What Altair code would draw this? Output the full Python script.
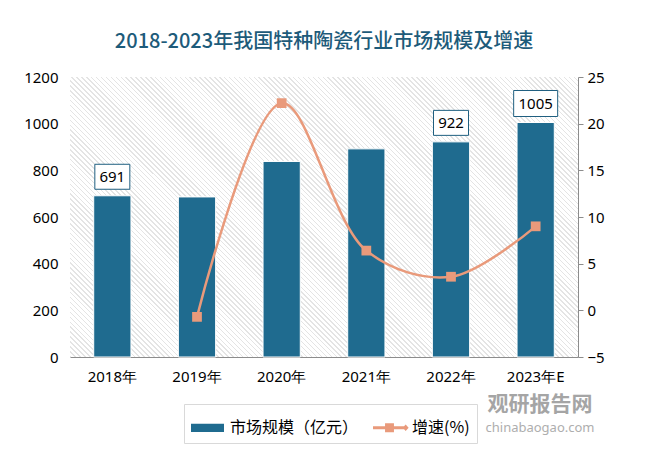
import altair as alt
import pandas as pd

# ---- data ----
years = ["2018年", "2019年", "2020年", "2021年", "2022年", "2023年E"]
market_size = [691, 686, 838, 892, 922, 1005]          # 亿元
growth_rate = [None, -0.7, 22.2, 6.4, 3.6, 9.0]        # %
bar_labels = ["691", None, None, None, "922", "1005"]
series_names = ["市场规模（亿元）", "增速(%)"]
title_text = "2018-2023年我国特种陶瓷行业市场规模及增速"

BAR = "#1f6b8f"
LINE = "#e99a7b"
BOX = "#1f5f80"
W, H = 508, 280

df = pd.DataFrame({"year": years, "size": market_size, "growth": growth_rate, "label": bar_labels})
df["wide"] = df["label"].fillna("").str.len() > 3
legend_df = pd.DataFrame({"year": [years[0]] * 2, "growth": [None, None], "series": series_names})

x_axis = alt.Axis(labelAngle=0, ticks=False, domainColor="#8c8c8c", labelFont="Noto Sans",
                  labelFontSize=15, labelColor="#000000", labelPadding=12, grid=False, title=None)
x_enc = alt.X("year:N", sort=years, title=None, axis=x_axis,
              scale=alt.Scale(paddingInner=0.56, paddingOuter=0.28))

left_axis = alt.Axis(values=[0, 200, 400, 600, 800, 1000, 1200], format="d", domain=False, ticks=False,
                     grid=False, labelPadding=12, labelFont="Noto Sans", labelFontSize=15,
                     labelColor="#000000", title=None)
right_axis = alt.Axis(orient="right", values=[-5, 0, 5, 10, 15, 20, 25], format="d", domain=True,
                      domainColor="#8c8c8c", ticks=True, tickColor="#8c8c8c", tickSize=5, labelPadding=4,
                      grid=False, labelFont="Noto Sans", labelFontSize=15, labelColor="#000000", title=None)

y_left = alt.Y("size:Q", title=None, axis=left_axis, scale=alt.Scale(domain=[0, 1200], nice=False))
y_right = alt.Y("growth:Q", title=None, axis=right_axis, scale=alt.Scale(domain=[-5, 25], nice=False))

# hatched plot background (light diagonal stripes)
N = 160
stops = []
for i in range(N):
    a = i / N
    b = (i + 0.3) / N
    c = (i + 1) / N
    stops += [{"offset": a, "color": "#e4e4e4"}, {"offset": b, "color": "#e4e4e4"},
              {"offset": b, "color": "#ffffff"}, {"offset": c, "color": "#ffffff"}]
hatch = alt.LinearGradient(gradient="linear", stops=stops, x1=0, y1=1, x2=1.19, y2=0.344)

background = alt.Chart(pd.DataFrame({"k": [0]})).mark_rect(color=hatch).encode(
    x=alt.value(0), x2=alt.value(W), y=alt.value(0), y2=alt.value(H))

bars = alt.Chart(df).mark_bar(color=BAR, stroke="white", strokeWidth=1).encode(x=x_enc, y=y_left)

box_narrow = "M-1,-0.714 L1,-0.714 L1,0.714 L-1,0.714 Z"
box_wide = "M-1,-0.591 L1,-0.591 L1,0.591 L-1,0.591 Z"

lab_base = alt.Chart(df).transform_filter("datum.label != null")
boxes_n = lab_base.transform_filter("!datum.wide").mark_point(
    shape=box_narrow, size=1225, filled=True, fill="white", stroke=BOX, strokeWidth=1, opacity=1, yOffset=-19
).encode(x=x_enc, y=y_left)
boxes_w = lab_base.transform_filter("datum.wide").mark_point(
    shape=box_wide, size=1936, filled=True, fill="white", stroke=BOX, strokeWidth=1, opacity=1, yOffset=-19
).encode(x=x_enc, y=y_left)
texts = lab_base.mark_text(font="Noto Sans", fontSize=15, color="#000000", baseline="middle", yOffset=-19).encode(
    x=x_enc, y=y_left, text="label:N")

left_group = alt.layer(bars, boxes_n, boxes_w, texts)

line = alt.Chart(df).mark_line(color=LINE, strokeWidth=2.5, interpolate="catmull-rom").encode(x=x_enc, y=y_right)
pts = alt.Chart(df).mark_point(shape="square", size=95, filled=True, color=LINE, opacity=1).encode(x=x_enc, y=y_right)

bar_sym = "M-1,-0.25 L1,-0.25 L1,0.25 L-1,0.25 Z"
line_sym = ("M-1,-0.09 L1,-0.09 L1,0.09 L-1,0.09 Z "
            "M-0.27,-0.27 L0.27,-0.27 L0.27,0.27 L-0.27,0.27 Z "
            "M0.8,0 L0.98,-0.2 L1.16,0 L0.98,0.2 Z")
leg = alt.Legend(orient="none", legendX=114, legendY=327, direction="horizontal", title=None,
                 labelFont="Noto Sans CJK SC", labelFontSize=16, labelColor="#000000", symbolSize=1089,
                 symbolStrokeWidth=0, columnPadding=14, labelOffset=6, padding=7, strokeColor="#d9d9d9")
legend_layer = alt.Chart(legend_df).mark_point(filled=True, opacity=1, size=1089).encode(
    x=x_enc, y=y_right,
    color=alt.Color("series:N", scale=alt.Scale(domain=series_names, range=[BAR, LINE]), legend=leg),
    shape=alt.Shape("series:N", scale=alt.Scale(domain=series_names, range=[bar_sym, line_sym]), legend=leg),
)

right_group = alt.layer(line, pts, legend_layer)

wm_df = pd.DataFrame({"k": [0]})
wm1 = alt.Chart(wm_df).mark_text(text="观研报告网", font="Noto Sans CJK SC", fontSize=21, fontWeight="bold",
                                 color="#8f8f8f", opacity=0.8).encode(x=alt.value(470), y=alt.value(328))
wm2 = alt.Chart(wm_df).mark_text(text="chinabaogao.com", font="Noto Sans", fontSize=13,
                                 color="#9a9a9a", opacity=0.8).encode(x=alt.value(470), y=alt.value(351))

chart = alt.layer(background, left_group, right_group, wm1, wm2).resolve_scale(y="independent").properties(
    width=W, height=H,
    padding={"left": 15, "top": 24, "right": 10, "bottom": 5},
    title=alt.TitleParams(title_text, font="Noto Sans CJK SC", fontSize=20, fontWeight=500,
                          color="#1d5b7a", offset=18, anchor="middle"),
).configure_view(stroke=None)

chart.save("out.html", embed_options={"renderer": "svg", "actions": False})
